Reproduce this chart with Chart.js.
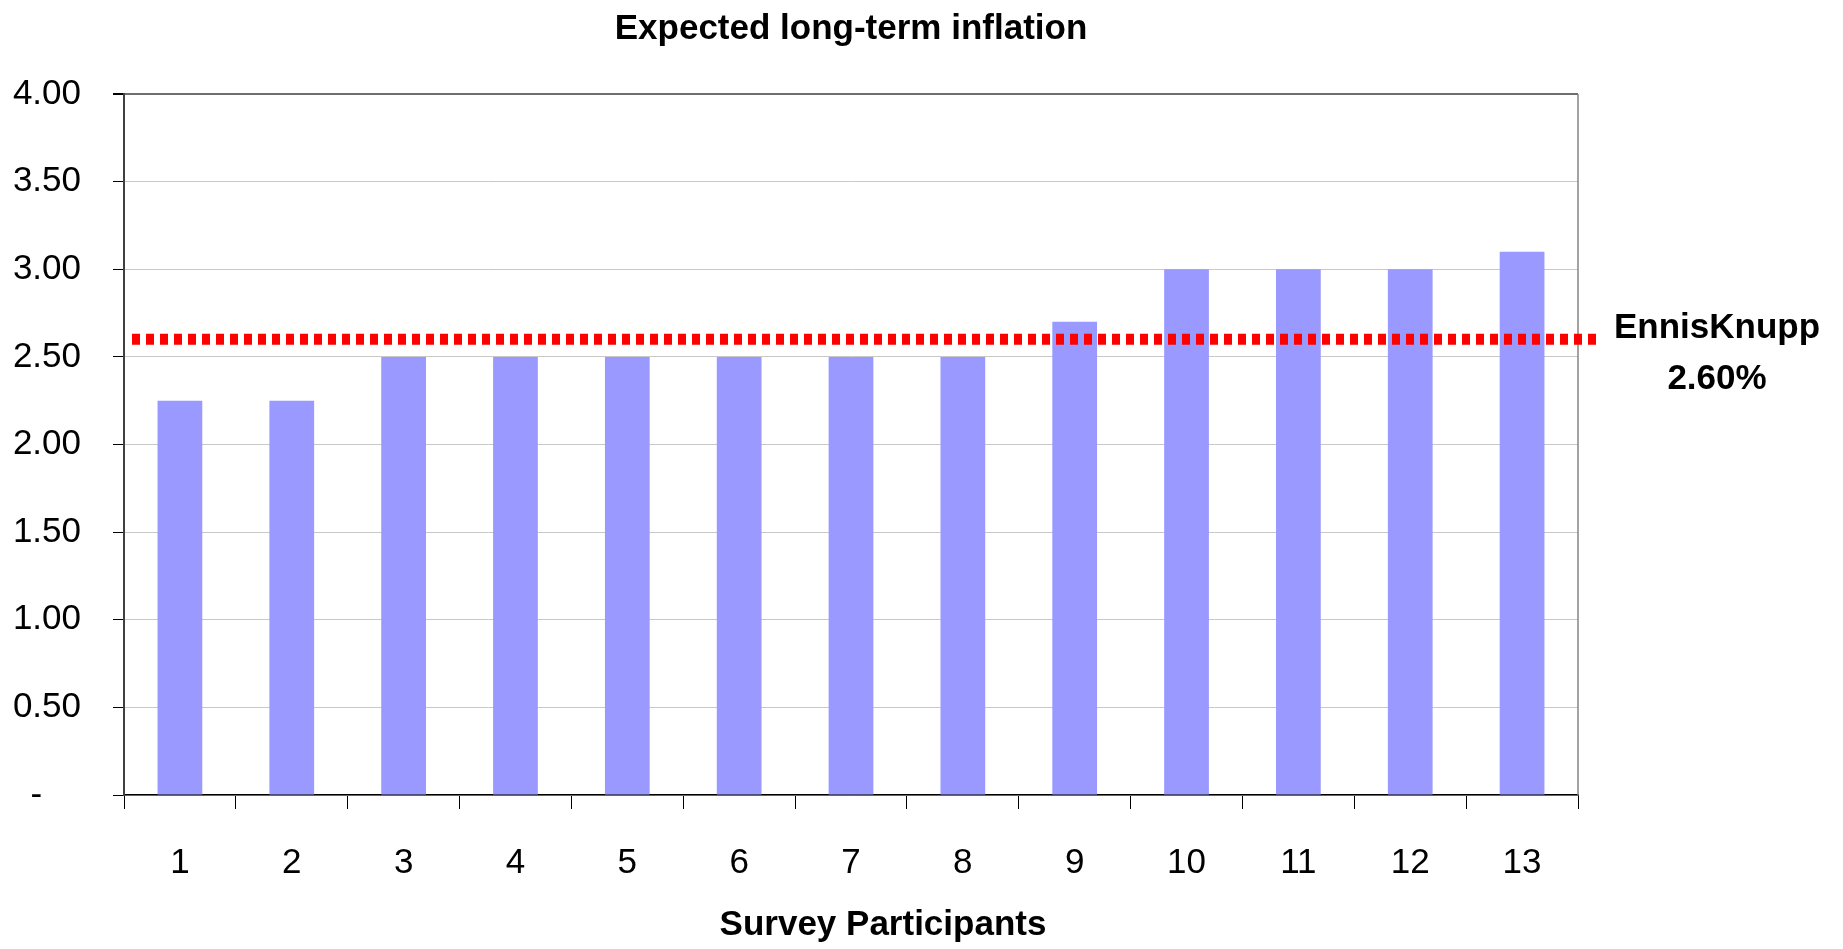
<!DOCTYPE html>
<html>
<head>
<meta charset="utf-8">
<title>Expected long-term inflation</title>
<script src="https://cdn.jsdelivr.net/npm/chart.js@4"></script>
<style>
  body { margin: 0; background: #fff; }
  #wrap { width: 1843px; height: 949px; }
</style>
</head>
<body>
<div id="wrap"><canvas id="inflationChart"></canvas></div>
<script>
var FONT = '"Liberation Sans Narrow", "Liberation Sans", Arial, sans-serif';

var participants = ["1", "2", "3", "4", "5", "6", "7", "8", "9", "10", "11", "12", "13"];
var expectedInflation = [2.25, 2.25, 2.5, 2.5, 2.5, 2.5, 2.5, 2.5, 2.7, 3.0, 3.0, 3.0, 3.1];
var yTicks = [0, 0.5, 1, 1.5, 2, 2.5, 3, 3.5, 4];
var consultantName = "EnnisKnupp";
var consultantRate = 2.6;

// dotted red line for the consultant's estimate, its label, right border and x title
var extras = {
  id: "extras",
  afterDatasetsDraw: function (chart) {
    var c = chart.ctx;
    var area = chart.chartArea;
    var y = chart.scales.y.getPixelForValue(consultantRate);

    c.save();
    // right edge of the plot area
    c.strokeStyle = "#858585";
    c.lineWidth = 1.5;
    c.beginPath();
    c.moveTo(area.right, area.top);
    c.lineTo(area.right, area.bottom);
    c.stroke();

    c.strokeStyle = "#ff0000";
    c.lineWidth = 11;
    c.setLineDash([8, 6]);
    c.beginPath();
    c.moveTo(area.left + 8, y);
    c.lineTo(area.right + 21, y);
    c.stroke();
    c.setLineDash([]);

    c.fillStyle = "#000";
    c.font = "bold 35px " + FONT;
    c.textAlign = "center";
    c.textBaseline = "alphabetic";
    c.fillText(consultantName, area.right + 139, y - 1);
    c.fillText(consultantRate.toFixed(2) + "%", area.right + 139, y + 50);

    c.fillText("Survey Participants", (area.left + area.right) / 2 + 32, 935);
    c.restore();
  }
};

new Chart(document.getElementById("inflationChart"), {
  type: "bar",
  data: {
    labels: participants,
    datasets: [
      {
        label: "Expected long-term inflation",
        data: expectedInflation,
        backgroundColor: "#9999ff",
        barPercentage: 0.4,
        categoryPercentage: 1.0,
      },
    ],
  },
  options: {
    responsive: true,
    maintainAspectRatio: false,
    animation: false,
    layout: { padding: { left: 0, right: 265, top: 0, bottom: 0 } },
    plugins: {
      legend: { display: false },
      tooltip: { enabled: false },
      title: {
        display: true,
        text: "Expected long-term inflation",
        fullSize: false,
        color: "#000",
        font: { family: FONT, size: 35, weight: "bold" },
        padding: { top: 8, bottom: 44 },
      },
    },
    scales: {
      x: {
        afterFit: function (scale) { scale.height = 154; },
        grid: {
          offset: true,
          drawOnChartArea: false,
          tickLength: 14,
          tickColor: "#000",
        },
        border: { display: true, color: "#000", width: 1.5 },
        ticks: {
          color: "#000",
          padding: 33,
          font: { family: FONT, size: 35 },
        },
      },
      y: {
        min: 0,
        max: 4,
        afterFit: function (scale) { scale.width = 124; },
        afterBuildTicks: function (scale) {
          scale.ticks = yTicks.map(function (v) { return { value: v }; });
        },
        grid: {
          color: function (ctx) {
            return ctx.tick && ctx.tick.value === 4 ? "#6e6e6e" : "#c8c8c8";
          },
          lineWidth: function (ctx) {
            return ctx.tick && ctx.tick.value === 4 ? 2 : 1;
          },
          tickLength: 11,
          tickColor: "#000",
        },
        border: { display: true, color: "#404040", width: 2 },
        ticks: {
          color: "#000",
          padding: 32,
          font: { family: FONT, size: 35 },
          callback: function (v) { return v === 0 ? "-    " : v.toFixed(2); },
        },
      },
    },
  },
  plugins: [extras],
});
</script>
</body>
</html>
